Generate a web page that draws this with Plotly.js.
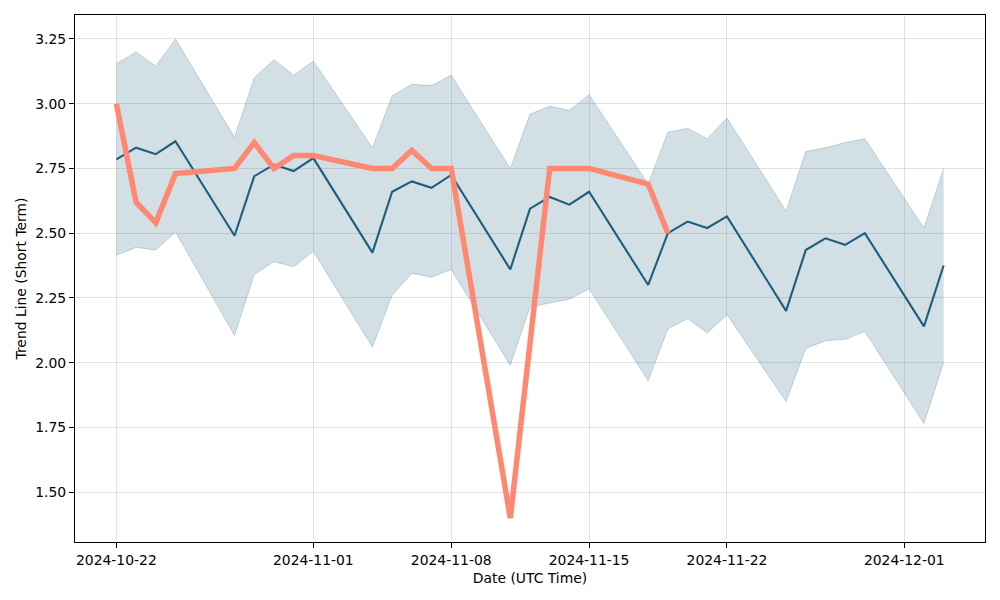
<!DOCTYPE html>
<html>
<head>
<meta charset="utf-8">
<script src="https://cdn.plot.ly/plotly-3.0.1.min.js"></script>
<style>
  html, body { margin: 0; padding: 0; background: #fff; }
  #chart { width: 1000px; height: 600px; }
</style>
</head>
<body>
<div id="chart"></div>
<script>
// trend line dates and values
var dates = ['2024-10-22', '2024-10-23', '2024-10-24', '2024-10-25', '2024-10-28', '2024-10-29',
             '2024-10-30', '2024-10-31', '2024-11-01', '2024-11-04', '2024-11-05', '2024-11-06',
             '2024-11-07', '2024-11-08', '2024-11-11', '2024-11-12', '2024-11-13', '2024-11-14',
             '2024-11-15', '2024-11-18', '2024-11-19', '2024-11-20', '2024-11-21', '2024-11-22',
             '2024-11-25', '2024-11-26', '2024-11-27', '2024-11-28', '2024-11-29', '2024-12-02',
             '2024-12-03'];
var trend = [2.785, 2.83, 2.805, 2.855, 2.49, 2.72, 2.765, 2.74, 2.79, 2.425, 2.66,
             2.70, 2.675, 2.725, 2.36, 2.595, 2.64, 2.61, 2.66, 2.30, 2.50, 2.545,
             2.52, 2.565, 2.20, 2.435, 2.48, 2.455, 2.50, 2.14, 2.375];
var upper = [3.155, 3.20, 3.145, 3.25, 2.87, 3.10, 3.17, 3.11, 3.165, 2.83, 3.03,
             3.075, 3.07, 3.11, 2.75, 2.96, 2.99, 2.975, 3.035, 2.69, 2.89, 2.905,
             2.865, 2.945, 2.585, 2.815, 2.83, 2.85, 2.865, 2.52, 2.75];
var lower = [2.415, 2.445, 2.435, 2.505, 2.105, 2.34, 2.39, 2.37, 2.43, 2.06, 2.26,
             2.345, 2.33, 2.36, 1.99, 2.215, 2.23, 2.245, 2.285, 1.93, 2.13, 2.17,
             2.115, 2.185, 1.85, 2.055, 2.085, 2.09, 2.12, 1.765, 2.00];

// actual (orange) series
var actualDates = ['2024-10-22', '2024-10-23', '2024-10-24', '2024-10-25', '2024-10-28',
                   '2024-10-29', '2024-10-30', '2024-10-31', '2024-11-01', '2024-11-04',
                   '2024-11-05', '2024-11-06', '2024-11-07', '2024-11-08', '2024-11-11',
                   '2024-11-13', '2024-11-15', '2024-11-18', '2024-11-19'];
var actual = [3.00, 2.62, 2.54, 2.73, 2.75, 2.85, 2.75, 2.80, 2.80, 2.75,
              2.75, 2.82, 2.75, 2.75, 1.40, 2.75, 2.75, 2.69, 2.50];

var tickDates = ['2024-10-22', '2024-11-01', '2024-11-08', '2024-11-15', '2024-11-22', '2024-12-01'];

var bandLine = {color: 'rgba(31,95,127,0.22)', width: 1};

var lowTrace = {
    type: 'scatter', mode: 'lines',
    x: dates, y: lower,
    line: bandLine,
    hoverinfo: 'skip', showlegend: false
};
var upTrace = {
    type: 'scatter', mode: 'lines',
    x: dates, y: upper,
    fill: 'tonexty', fillcolor: 'rgba(31,95,127,0.2)',
    line: bandLine,
    hoverinfo: 'skip', showlegend: false
};
var trendTrace = {
    type: 'scatter', mode: 'lines',
    x: dates, y: trend,
    line: {color: '#1d5e7e', width: 2.1},
    showlegend: false
};
var actualTrace = {
    type: 'scatter', mode: 'lines',
    x: actualDates, y: actual,
    line: {color: '#ff8872', width: 5.5},
    showlegend: false
};

var font = {family: 'DejaVu Sans', size: 13.9, color: '#000'};

var layout = {
    width: 1000, height: 600,
    margin: {l: 75, r: 15, t: 15, b: 58},
    paper_bgcolor: '#fff', plot_bgcolor: '#fff',
    font: font,
    xaxis: {
        type: 'date',
        range: ['2024-10-19 21:36', '2024-12-05 02:24'],
        tickvals: tickDates,
        ticktext: tickDates,
        ticks: 'outside', ticklen: 5, tickcolor: '#000',
        showline: true, linecolor: '#000', linewidth: 1, mirror: true,
        showgrid: true, gridcolor: 'rgba(128,128,128,0.22)', gridwidth: 1,
        zeroline: false,
        title: {text: 'Date (UTC Time)', font: font, standoff: 6}
    },
    yaxis: {
        range: [1.3075, 3.3425],
        tickvals: [1.5, 1.75, 2.0, 2.25, 2.5, 2.75, 3.0, 3.25],
        tickformat: '.2f',
        ticks: 'outside', ticklen: 5, tickcolor: '#000',
        showline: true, linecolor: '#000', linewidth: 1, mirror: true,
        showgrid: true, gridcolor: 'rgba(128,128,128,0.22)', gridwidth: 1,
        zeroline: false,
        title: {text: 'Trend Line (Short Term)', font: font, standoff: 5}
    }
};

Plotly.newPlot('chart', [lowTrace, upTrace, trendTrace, actualTrace], layout, {displayModeBar: false, staticPlot: true});
</script>
</body>
</html>
